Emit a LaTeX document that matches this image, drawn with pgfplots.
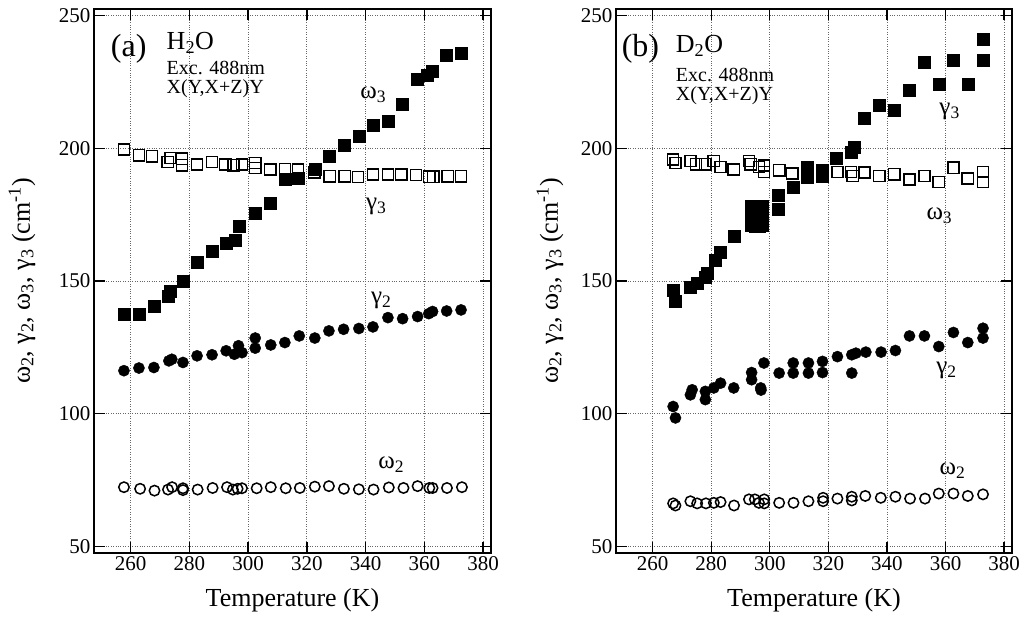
\documentclass[border=0pt]{standalone}
\usepackage{fontspec}
\setmainfont{Liberation Serif}
\usepackage{pgfplots}
\pgfplotsset{compat=1.18}
\pgfplotsset{
  panel/.style={
    scale only axis, height=544pt, anchor=south west,
    xmin=247.5, xmax=382.7, ymin=47.5, ymax=252.5,
    xtick={260,280,...,380}, ytick={50,100,...,250},
    grid=major, major grid style={dotted, line width=0.8pt, black!60},
    tick align=inside, major tick length=11pt, tick style={line width=1.4pt, black},
    axis line style={line width=1.9pt},
    ticklabel style={font=\fontsize{21}{21}\selectfont},
    /pgf/number format/assume math mode=true,
    /pgf/number format/1000 sep={},
    clip=false,
  },
  fsq/.style={only marks, mark=square*, mark size=6pt, black},
  osq/.style={only marks, mark=square, mark size=5.6pt, black, mark options={line width=1.5pt}},
  fci/.style={only marks, mark=*, mark size=5.6pt, black},
  oci/.style={only marks, mark=o, mark size=5.2pt, black, mark options={line width=1.5pt}},
}
\newcommand{\ylab}{ω\textsubscript{2}, γ\textsubscript{2}, ω\textsubscript{3}, γ\textsubscript{3} (cm\textsuperscript{-1})}
\begin{document}
\begin{tikzpicture}
\useasboundingbox (0,0) rectangle (1027pt,620pt);
% ---------------- panel (a)
\begin{axis}[panel, at={(94pt,67pt)}, width=397pt]
\addplot[fsq] table {
257.7 137.5
262.8 137.5
267.9 140.6
272.7 144.4
273.3 146.2
277.8 150.0
282.6 156.9
287.7 161.3
292.5 164.4
295.6 165.3
297.0 170.7
302.4 175.7
307.5 179.4
312.5 188.5
317.0 188.8
322.7 192.0
327.5 197.0
332.6 201.1
337.7 204.5
342.5 208.6
347.6 210.4
352.4 216.8
357.7 226.0
361.1 227.7
362.8 229.0
367.4 235.2
372.4 235.8
};
\addplot[osq] table {
257.7 199.5
262.8 197.4
267.3 197.0
272.6 194.8
273.6 196.3
277.5 196.1
277.5 193.6
282.6 193.9
287.7 194.8
292.2 193.9
295.0 193.6
297.9 193.9
302.4 194.5
302.4 192.6
307.5 192.0
312.5 192.2
317.0 192.0
322.5 191.0
327.8 189.5
332.9 189.5
337.4 189.2
342.5 190.1
347.6 190.1
352.1 190.1
357.2 189.9
361.7 189.3
363.0 189.3
368.0 189.5
372.5 189.5
};
\addplot[fci] table {
257.7 116.2
262.8 117.2
267.9 117.4
273.0 119.9
274.0 120.5
277.8 119.3
282.6 121.8
287.7 122.2
292.5 123.7
295.3 122.4
296.7 125.6
297.9 123.0
302.4 128.5
302.4 124.7
307.7 125.9
312.5 126.8
317.4 129.3
322.7 128.5
327.5 131.2
332.5 131.8
337.7 132.1
342.5 132.7
347.6 136.2
352.6 135.8
357.7 136.6
361.5 137.7
362.8 138.5
367.6 138.7
372.5 139.1
};
\addplot[oci] table {
257.7 72.3
263.2 71.7
268.1 71.0
272.7 71.4
274.1 72.3
277.8 71.9
277.8 71.2
282.8 71.4
287.9 72.0
292.8 72.3
294.8 71.4
296.4 71.7
297.9 71.9
302.9 71.9
307.7 72.3
312.8 71.9
317.6 72.0
322.7 72.5
327.5 72.7
332.6 71.7
337.7 71.5
342.7 71.4
347.9 72.2
352.9 72.0
357.7 72.7
361.7 72.0
362.8 72.0
367.7 72.0
372.8 72.3
};
\node[anchor=base west, inner sep=0, font=\fontsize{32}{32}\selectfont] at (axis cs:253.2,234.5) {(a)};
\node[anchor=base west, inner sep=0, font=\fontsize{26}{26}\selectfont] at (axis cs:272.2,237.2) {H\textsubscript{2}O};
\node[anchor=base west, inner sep=0, font=\fontsize{20}{20}\selectfont] at (axis cs:272.2,227.8) {Exc. 488nm};
\node[anchor=base west, inner sep=0, font=\fontsize{20}{20}\selectfont] at (axis cs:272.2,220.5) {X(Y,X+Z)Y};
\node[inner sep=0, font=\fontsize{25}{25}\selectfont] at (axis cs:342.6,220.2) {ω\textsubscript{3}};
\node[inner sep=0, font=\fontsize{25}{25}\selectfont] at (axis cs:343.6,178.0) {γ\textsubscript{3}};
\node[inner sep=0, font=\fontsize{25}{25}\selectfont] at (axis cs:345.3,142.7) {γ\textsubscript{2}};
\node[inner sep=0, font=\fontsize{25}{25}\selectfont] at (axis cs:348.7,80.9) {ω\textsubscript{2}};
\node[font=\fontsize{26}{26}\selectfont] at ([yshift=-47pt]rel axis cs:0.5,0) {Temperature (K)};
\node[rotate=90, font=\fontsize{26}{26}\selectfont] at ([xshift=-72pt]rel axis cs:0,0.5) {\ylab};
\end{axis}
% ---------------- panel (b)
\begin{axis}[panel, at={(616pt,67pt)}, width=396pt]
\addplot[fsq] table {
267.0 146.6
267.8 142.2
272.9 147.6
275.2 149.1
277.8 151.4
278.6 153.1
281.2 157.9
283.2 161.0
287.7 166.9
293.5 178.0
293.5 174.5
293.5 171.0
295.0 170.5
296.5 170.5
297.5 171.0
297.5 174.5
297.5 178.0
302.9 182.3
302.9 177.0
308.0 185.5
312.8 193.0
312.8 189.2
318.0 191.7
318.0 189.5
322.6 196.1
327.7 198.6
328.8 200.5
332.3 211.4
337.4 216.2
342.5 214.5
347.7 221.8
352.8 232.5
357.7 224.3
362.7 233.3
367.6 224.1
372.8 233.3
372.8 241.2
};
\addplot[osq] table {
267.0 195.8
267.8 194.5
272.9 195.2
274.8 194.0
278.0 194.0
280.9 195.2
283.2 193.0
287.7 192.0
292.9 195.2
293.5 194.0
296.3 193.0
298.0 193.5
298.0 191.1
303.2 191.7
307.7 190.5
323.1 191.1
327.7 191.1
328.3 189.6
332.3 190.9
337.4 189.6
342.5 190.2
347.7 188.2
352.8 189.6
357.7 187.3
362.7 192.7
367.6 188.6
372.8 191.1
372.8 187.3
};
\addplot[fci] table {
267.0 102.7
267.8 98.4
272.9 107.1
273.5 109.0
278.0 105.3
278.0 108.4
280.9 109.7
283.2 111.5
287.7 109.7
293.8 115.5
293.8 112.8
296.9 109.7
297.0 108.9
298.0 119.1
303.2 115.3
308.0 119.1
308.0 115.3
313.2 119.1
313.2 115.3
318.0 119.7
318.0 115.5
323.1 121.5
328.0 122.2
328.0 115.3
329.4 122.8
332.8 123.2
338.0 123.2
342.9 123.8
347.7 129.3
352.8 129.3
357.7 125.3
362.7 130.6
367.6 126.8
372.8 132.2
372.8 128.5
};
\addplot[oci] table {
267.0 66.2
267.8 65.4
272.9 67.0
275.2 66.2
278.2 66.2
280.9 66.4
283.2 66.7
287.8 65.4
292.9 67.7
294.9 67.7
296.3 66.4
298.1 67.7
298.1 66.2
303.2 66.4
308.1 66.4
313.2 67.0
318.2 68.3
318.2 67.0
323.1 68.0
328.0 68.7
328.0 67.3
332.6 69.0
337.9 68.3
342.9 68.7
347.9 68.0
353.0 68.0
357.7 69.9
362.7 69.9
367.6 69.0
372.8 69.6
};
\node[anchor=base west, inner sep=0, font=\fontsize{32}{32}\selectfont] at (axis cs:249.4,234.5) {(b)};
\node[anchor=base west, inner sep=0, font=\fontsize{26}{26}\selectfont] at (axis cs:267.9,236.0) {D\textsubscript{2}O};
\node[anchor=base west, inner sep=0, font=\fontsize{20}{20}\selectfont] at (axis cs:267.9,225.3) {Exc. 488nm};
\node[anchor=base west, inner sep=0, font=\fontsize{20}{20}\selectfont] at (axis cs:267.9,218.0) {X(Y,X+Z)Y};
\node[inner sep=0, font=\fontsize{25}{25}\selectfont] at (axis cs:361.4,213.8) {γ\textsubscript{3}};
\node[inner sep=0, font=\fontsize{25}{25}\selectfont] at (axis cs:357.9,174.7) {ω\textsubscript{3}};
\node[inner sep=0, font=\fontsize{25}{25}\selectfont] at (axis cs:360.3,116.3) {γ\textsubscript{2}};
\node[inner sep=0, font=\fontsize{25}{25}\selectfont] at (axis cs:362.4,78.6) {ω\textsubscript{2}};
\node[font=\fontsize{26}{26}\selectfont] at ([yshift=-47pt]rel axis cs:0.5,0) {Temperature (K)};
\node[rotate=90, font=\fontsize{26}{26}\selectfont] at ([xshift=-66pt]rel axis cs:0,0.5) {\ylab};
\end{axis}
\end{tikzpicture}
\end{document}
